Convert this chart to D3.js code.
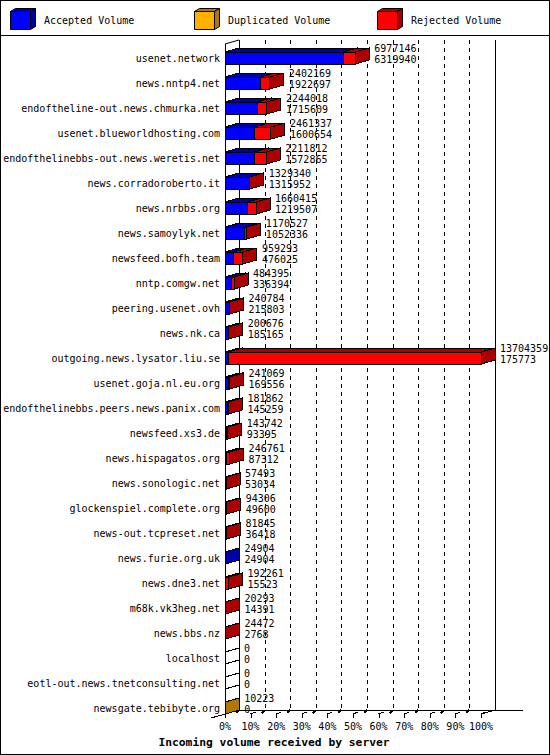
<!DOCTYPE html>
<html lang="en">
<head>
<meta charset="UTF-8">
<title>Incoming volume received by server</title>
<script src="https://d3js.org/d3.v7.min.js"></script>
<style>
    body { margin: 0; background: #fff; }
    svg { display: block; }
    text { font-family: "DejaVu Sans Mono", monospace; font-size: 10px; fill: #000; }
    .title { font-weight: bold; font-size: 11.3px; }
</style>
</head>
<body>
<svg id="chart" width="550" height="755"></svg>
<script>
// servers, top to bottom
const categories = [
    "usenet.network", "news.nntp4.net", "endoftheline-out.news.chmurka.net",
    "usenet.blueworldhosting.com", "endofthelinebbs-out.news.weretis.net",
    "news.corradoroberto.it", "news.nrbbs.org", "news.samoylyk.net",
    "newsfeed.bofh.team", "nntp.comgw.net", "peering.usenet.ovh", "news.nk.ca",
    "outgoing.news.lysator.liu.se", "usenet.goja.nl.eu.org",
    "endofthelinebbs.peers.news.panix.com", "newsfeed.xs3.de",
    "news.hispagatos.org", "news.sonologic.net", "glockenspiel.complete.org",
    "news-out.tcpreset.net", "news.furie.org.uk", "news.dne3.net",
    "m68k.vk3heg.net", "news.bbs.nz", "localhost",
    "eotl-out.news.tnetconsulting.net", "newsgate.tebibyte.org"
];
const accepted = [
    6319940, 1922697, 1715609, 1600654, 1572865, 1315952, 1219507, 1052336,
    476025, 336394, 215803, 185165, 175773, 169556, 145259, 93395, 87312,
    53034, 49600, 36418, 24904, 15523, 14391, 2768, 0, 0, 0
];
const duplicated = [
    0, 0, 0, 0, 0, 0, 0, 0, 0, 0, 0, 0, 0, 0, 0, 0, 0, 0, 0, 0, 0, 0, 0, 0, 0, 0, 10223
];
const rejected = [
    657206, 479472, 528409, 860683, 638947, 13388, 440908, 118191, 483268,
    148001, 24981, 15511, 13528586, 71513, 36603, 50347, 159449, 4459, 44706,
    45427, 0, 176738, 5902, 21704, 0, 0, 0
];
const seriesNames = ["Accepted Volume", "Duplicated Volume", "Rejected Volume"];
const seriesColors = ["#0000ff", "#ffb000", "#ff0000"];
const seriesDark = ["#0000aa", "#b07800", "#aa0000"];
const pctTicks = [0, 10, 20, 30, 40, 50, 60, 70, 80, 90, 100];

const series = [accepted, duplicated, rejected];
const totals = categories.map((c, i) => accepted[i] + duplicated[i] + rejected[i]);

const svg = d3.select("#chart");
const DX = 14, DY = 4, HALF = 6;
const frontTop = 44, frontFloor = 714;

const x = d3.scaleLinear().domain([0, d3.max(totals)]).range([225, 481]);
const pct = d3.scaleLinear().domain([0, 100]).range([225, 481]);
const y = d3.scalePoint().domain(categories).range([58, 708]);

// frame and legend separator
svg.append("rect")
    .attr("x", 0.5).attr("y", 0.5).attr("width", 549).attr("height", 754)
    .attr("fill", "#fff").attr("stroke", "#000");
svg.append("line")
    .attr("x1", 0).attr("x2", 550).attr("y1", 35.5).attr("y2", 35.5)
    .attr("stroke", "#000");

// legend
const legend = svg.append("g");
seriesNames.forEach((name, i) => {
    const lx = 10 + 183.5 * i;
    const g = legend.append("g").attr("transform", `translate(${Math.round(lx)},0)`);
    drawBox(g, 0.5, 11.5, 20, 18, 5, 3, seriesColors[i], seriesDark[i]);
    g.append("text").attr("x", 34).attr("y", 23.5).text(name);
});

// box with top and right faces
function drawBox(g, x0, y0, w, h, dx, dy, fill, dark) {
    const x1 = x0 + w, y1 = y0 + h;
    g.append("polygon")
        .attr("points", [[x0, y0], [x1, y0], [x1, y1], [x0, y1]].join(" "))
        .attr("fill", fill).attr("stroke", "#000");
    g.append("polygon")
        .attr("points", [[x0, y0], [x1, y0], [x1 + dx, y0 - dy], [x0 + dx, y0 - dy]].join(" "))
        .attr("fill", dark).attr("stroke", "#000");
    g.append("polygon")
        .attr("points", [[x1, y0], [x1 + dx, y0 - dy], [x1 + dx, y1 - dy], [x1, y1]].join(" "))
        .attr("fill", dark).attr("stroke", "#000");
}

const plot = svg.append("g").attr("shape-rendering", "crispEdges");

// back grid
plot.selectAll(".grid")
    .data(pctTicks.slice(1, -1))
    .join("line")
    .attr("x1", d => Math.round(pct(d) + DX) + 0.5)
    .attr("x2", d => Math.round(pct(d) + DX) + 0.5)
    .attr("y1", frontTop - DY).attr("y2", frontFloor - DY)
    .attr("stroke", "#000").attr("stroke-dasharray", "4,4");

// walls
const bx0 = pct(0) + DX + 0.5, bx1 = Math.round(pct(100) + DX) + 0.5;
plot.append("line").attr("x1", bx0).attr("x2", bx0)
    .attr("y1", frontTop - DY).attr("y2", frontFloor - DY).attr("stroke", "#000");
plot.append("line").attr("x1", bx1).attr("x2", bx1)
    .attr("y1", frontTop - DY).attr("y2", frontFloor - DY).attr("stroke", "#000");
plot.append("line").attr("x1", pct(0) + 0.5).attr("x2", pct(0) + 0.5)
    .attr("y1", frontTop).attr("y2", frontFloor).attr("stroke", "#000");
plot.append("line").attr("x1", pct(0)).attr("y1", frontTop)
    .attr("x2", pct(0) + DX).attr("y2", frontTop - DY).attr("stroke", "#000")
    .attr("shape-rendering", "auto");

// floor
plot.append("line").attr("x1", bx0).attr("x2", 523)
    .attr("y1", frontFloor - DY + 0.5).attr("y2", frontFloor - DY + 0.5).attr("stroke", "#000");
plot.append("line").attr("x1", 211).attr("y1", frontFloor + 4)
    .attr("x2", bx0).attr("y2", frontFloor - DY).attr("stroke", "#000");
plot.append("line").attr("x1", bx1).attr("y1", frontFloor - DY)
    .attr("x2", pct(100)).attr("y2", frontFloor).attr("stroke", "#000");

// x ticks
const ticks = plot.selectAll(".tick").data(pctTicks).join("g");
ticks.append("line")
    .attr("x1", d => Math.round(pct(d)) + 0.5).attr("x2", d => Math.round(pct(d)) + 0.5)
    .attr("y1", frontFloor).attr("y2", frontFloor + 4).attr("stroke", "#000");
ticks.append("line")
    .attr("x1", d => pct(d)).attr("y1", frontFloor)
    .attr("x2", d => pct(d) + 5).attr("y2", frontFloor - 2).attr("stroke", "#000");
ticks.filter(d => d < 100).append("line")
    .attr("x1", d => pct(d) + 11).attr("y1", frontFloor - 1)
    .attr("x2", d => pct(d) + DX).attr("y2", frontFloor - DY).attr("stroke", "#000")
    .attr("stroke-width", 2);

svg.selectAll(".tickLabel")
    .data(pctTicks)
    .join("text")
    .attr("x", d => pct(d)).attr("y", 730)
    .attr("text-anchor", "middle")
    .text(d => d + "%");

svg.append("text").attr("class", "title")
    .attr("x", 274).attr("y", 746).attr("text-anchor", "middle")
    .text("Incoming volume received by server");

// bars
categories.forEach((cat, i) => {
    const cy = y(cat);
    const top = cy - HALF, bot = cy + HALF;
    const g = plot.append("g");
    if (totals[i] === 0) {
        g.append("polygon")
            .attr("points", [[pct(0), top], [pct(0) + DX, top - DY], [pct(0) + DX, bot - DY], [pct(0), bot]].join(" "))
            .attr("fill", "none").attr("stroke", "#000");
        return;
    }
    let acc = 0;
    series.forEach((s, k) => {
        const v = s[i];
        if (v <= 0) return;
        const x0 = x(acc), x1 = x(acc + v);
        acc += v;
        g.append("polygon")
            .attr("points", [[x0, top], [x1, top], [x1, bot], [x0, bot]].join(" "))
            .attr("fill", seriesColors[k]).attr("stroke", "#000");
        g.append("polygon")
            .attr("points", [[x0, top], [x1, top], [x1 + DX, top - DY], [x0 + DX, top - DY]].join(" "))
            .attr("fill", seriesDark[k]).attr("stroke", "#000");
        g.append("polygon")
            .attr("points", [[x1, top], [x1 + DX, top - DY], [x1 + DX, bot - DY], [x1, bot]].join(" "))
            .attr("fill", seriesDark[k]).attr("stroke", "#000");
    });
});

// category labels
svg.selectAll(".cat")
    .data(categories)
    .join("text")
    .attr("x", 220).attr("y", d => y(d) + 4)
    .attr("text-anchor", "end")
    .text(d => d);

// value labels: total above, accepted below
categories.forEach((cat, i) => {
    const lx = x(totals[i]) + DX + 5;
    svg.append("text").attr("x", lx).attr("y", y(cat) - 6).text(totals[i]);
    svg.append("text").attr("x", lx).attr("y", y(cat) + 5).text(accepted[i]);
});
</script>
</body>
</html>
